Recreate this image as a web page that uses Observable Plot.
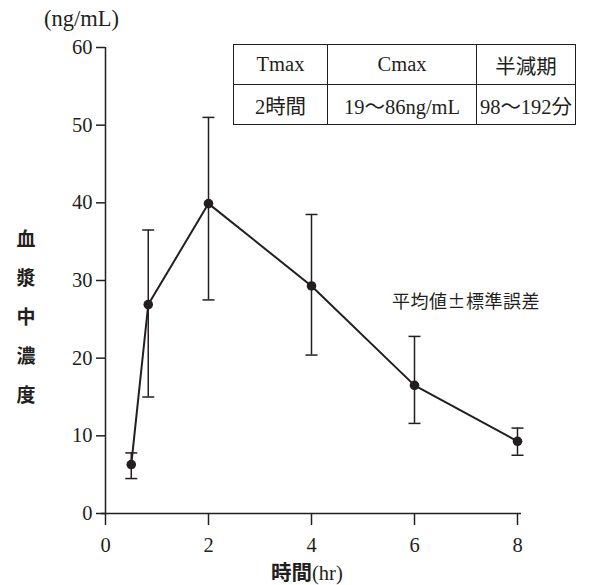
<!DOCTYPE html>
<html>
<head>
<meta charset="utf-8">
<script src="https://cdn.jsdelivr.net/npm/d3@7"></script>
<script src="https://cdn.jsdelivr.net/npm/@observablehq/plot@0.6"></script>
<style>
  body { margin: 0; background: #fff; }
  #wrap { position: relative; width: 604px; height: 585px; overflow: hidden; background: #fff; color: #231f20; }
  #wrap svg { position: absolute; left: 0; top: 0; }
  #wrap svg text { font-family: "Liberation Serif", "Times New Roman", "DejaVu Serif", serif !important; }
  .ann { position: absolute; white-space: nowrap; line-height: 1; }
  .serif { font-family: "Liberation Serif", "Times New Roman", "DejaVu Serif", "Noto Sans CJK JP", serif; }
  .cjk { font-family: "Noto Sans CJK JP", sans-serif; }
  #unit { left: 44px; top: 8px; font-size: 22.5px; }
  #ylab { left: 15px; top: 218px; width: 22px; font-size: 19px; font-weight: 700; line-height: 39px; text-align: center; white-space: normal; }
  #xlab { left: 271px; top: 561px; font-size: 20.5px; }
  #xlab b { font-family: "Noto Sans CJK JP", sans-serif; font-weight: 700; }
  #note { left: 392px; top: 291px; font-size: 18px; letter-spacing: 0.5px; }
  #tbl { position: absolute; left: 233px; top: 44px; border-collapse: collapse; font-family: "Liberation Serif", "Times New Roman", "DejaVu Serif", "Noto Sans CJK JP", serif; font-size: 20.5px; color: #231f20; }
  #tbl td { border: 1.5px solid #231f20; height: 39px; padding: 0; text-align: center; }
</style>
</head>
<body>
<div id="wrap">
  <div id="chart"></div>
  <div class="ann serif" id="unit">(ng/mL)</div>
  <div class="ann cjk" id="ylab"></div>
  <div class="ann serif" id="xlab"></div>
  <div class="ann cjk" id="note"></div>
  <table id="tbl"></table>
</div>
<script>
// ---- data ----
const hours = [0.5, 0.83, 2, 4, 6, 8];
const meanConc = [6.3, 26.9, 39.9, 29.3, 16.5, 9.3];
const upperConc = [7.8, 36.5, 51.0, 38.5, 22.8, 11.0];
const lowerConc = [4.5, 15.0, 27.5, 20.4, 11.6, 7.5];
const xTicks = [0, 2, 4, 6, 8];
const yTicks = [0, 10, 20, 30, 40, 50, 60];
const yLabelChars = ["血", "漿", "中", "濃", "度"];
const xLabelBold = "時間";
const xLabelUnit = "(hr)";
const noteText = "平均値±標準誤差";
const tableHeader = ["Tmax", "Cmax", "半減期"];
const tableValues = ["2時間", "19～86ng/mL", "98～192分"];
const tableColWidths = [93, 148, 98];

const data = hours.map((t, i) => ({t, y: meanConc[i], hi: upperConc[i], lo: lowerConc[i]}));
const ink = "#231f20";
const serif = "'Liberation Serif', 'Times New Roman', 'DejaVu Serif', serif";

// horizontal cap symbol for error bars
const capSymbol = {
  draw(ctx, size) {
    const r = Math.sqrt(size / Math.PI);
    ctx.moveTo(-r, 0);
    ctx.lineTo(r, 0);
  }
};

const chart = Plot.plot({
  width: 604,
  height: 585,
  marginLeft: 105,
  marginRight: 87,
  marginTop: 47,
  marginBottom: 72,
  style: `font-family: ${serif}; font-size: 20px; color: ${ink}; background: transparent;`,
  x: {domain: [0, 8], label: null},
  y: {domain: [0, 60], label: null},
  marks: [
    Plot.axisY({ticks: yTicks, tickSize: 9, tickPadding: 4, stroke: ink, strokeWidth: 1.5, fill: ink, fontSize: 20.5, fontFamily: serif, fontVariant: "normal", label: null}),
    Plot.axisX({ticks: xTicks, tickSize: 12, tickPadding: 12, stroke: ink, strokeWidth: 1.5, fill: ink, fontSize: 20.5, fontFamily: serif, fontVariant: "normal", label: null}),
    Plot.ruleX([0], {stroke: ink, strokeWidth: 1.5}),
    Plot.ruleY([0], {stroke: ink, strokeWidth: 1.5, inset: -4}),
    Plot.ruleX(data, {x: "t", y1: "lo", y2: "hi", stroke: ink, strokeWidth: 1.5}),
    Plot.dot(data, {x: "t", y: "hi", symbol: capSymbol, r: 6, stroke: ink, strokeWidth: 1.5, fill: "none"}),
    Plot.dot(data, {x: "t", y: "lo", symbol: capSymbol, r: 6, stroke: ink, strokeWidth: 1.5, fill: "none"}),
    Plot.line(data, {x: "t", y: "y", stroke: ink, strokeWidth: 2}),
    Plot.dot(data, {x: "t", y: "y", r: 4.8, fill: ink, stroke: "none"})
  ]
});
document.getElementById("chart").appendChild(chart);

// annotations
document.getElementById("ylab").innerHTML = yLabelChars.map(c => `<div>${c}</div>`).join("");
document.getElementById("xlab").innerHTML = `<b>${xLabelBold}</b>${xLabelUnit}`;
document.getElementById("note").textContent = noteText;

const tbl = document.getElementById("tbl");
const r1 = tbl.insertRow();
tableHeader.forEach((h, i) => { const c = r1.insertCell(); c.textContent = h; c.style.width = tableColWidths[i] + "px"; });
const r2 = tbl.insertRow();
tableValues.forEach(v => { const c = r2.insertCell(); c.textContent = v; });
</script>
</body>
</html>
